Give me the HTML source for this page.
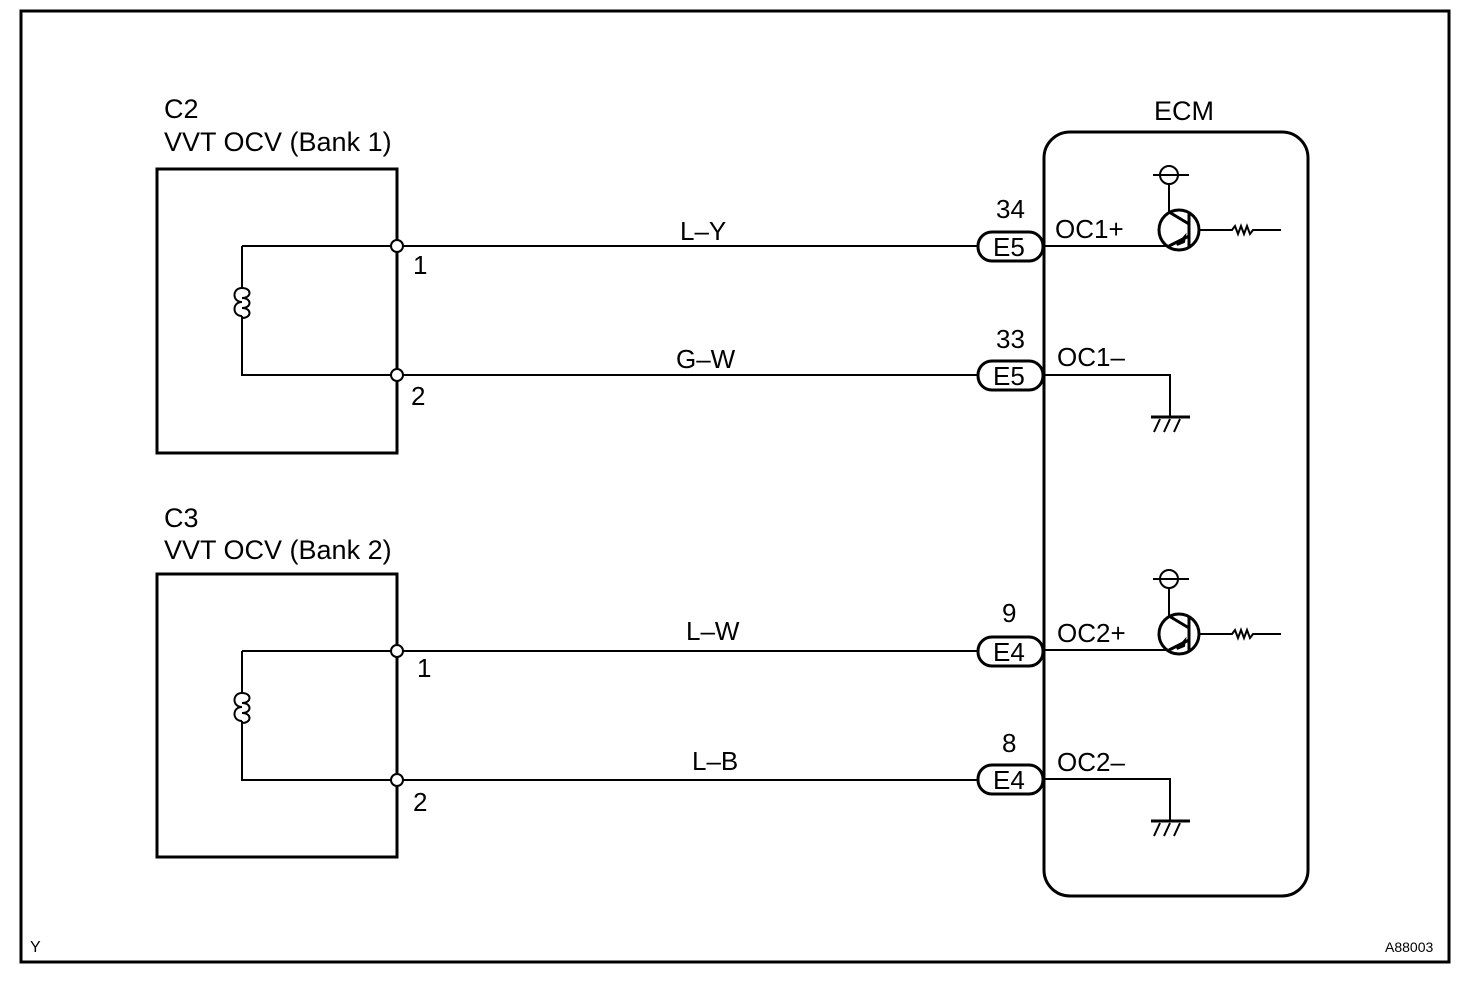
<!DOCTYPE html>
<html><head><style>
body{margin:0;background:#fff}
text{font-family:"Liberation Sans",Arial,sans-serif;fill:#000}
</style></head><body>
<svg width="1472" height="976" viewBox="0 0 1472 976" xmlns="http://www.w3.org/2000/svg">
<rect x="21" y="11" width="1428" height="951" fill="none" stroke="#000" stroke-width="3"/>
<g font-size="27">
<text x="164" y="118">C2</text>
<text x="164" y="151">VVT OCV (Bank 1)</text>
<text x="164" y="527">C3</text>
<text x="164" y="559">VVT OCV (Bank 2)</text>
<text x="1154" y="120">ECM</text>
</g>
<g fill="none" stroke="#000">
<rect x="157" y="169" width="240" height="284" stroke-width="3"/>
<rect x="157" y="574" width="240" height="283" stroke-width="3"/>
<rect x="1044" y="132" width="264" height="764" rx="26" stroke-width="3"/>
</g>
<g id="b1">
<path d="M397 246H980M397 375H980M242 246V288M242 316V375H397M242 246H397" fill="none" stroke="#000" stroke-width="2"/>
<path d="M242 288c-10 0 -10 14 0 14c-10 0 -10 14 0 14" fill="none" stroke="#000" stroke-width="2"/>
<path d="M242 288c10 0 10 10 0 10c10 0 10 10 0 10c10 0 10 10 0 10" fill="none" stroke="#000" stroke-width="2"/>
<circle cx="397" cy="246" r="6" fill="#fff" stroke="#000" stroke-width="2"/>
<circle cx="397" cy="375" r="6" fill="#fff" stroke="#000" stroke-width="2"/>
</g>
<use href="#b1" transform="translate(0,405)"/>
<g font-size="26">
<text x="413" y="274">1</text><text x="411" y="405">2</text>
<text x="417" y="677">1</text><text x="413" y="811">2</text>
<text x="680" y="240">L–Y</text><text x="676" y="368">G–W</text>
<text x="686" y="640">L–W</text><text x="692" y="770">L–B</text>
<text x="996" y="218">34</text><text x="996" y="348">33</text>
<text x="1002" y="622">9</text><text x="1002" y="752">8</text>
<text x="1055" y="238">OC1+</text><text x="1057" y="366">OC1–</text>
<text x="1057" y="642">OC2+</text><text x="1057" y="771">OC2–</text>
</g>
<g stroke="#000" stroke-width="3" fill="#fff">
<rect x="978" y="232" width="65" height="29" rx="14"/>
<rect x="978" y="361" width="65" height="29" rx="14"/>
<rect x="978" y="637" width="65" height="29" rx="14"/>
<rect x="978" y="765" width="65" height="29" rx="14"/>
</g>
<g font-size="26">
<text x="993" y="256">E5</text><text x="993" y="385">E5</text>
<text x="993" y="661">E4</text><text x="993" y="789">E4</text>
</g>
<g id="tr" fill="none" stroke="#000">
<path d="M1153 175H1189M1169 184V213M1043 246H1170M1198 230H1232l3-4 3 8 3-8 3 8 3-8 3 8 3-4H1281" stroke-width="2"/>
<circle cx="1169" cy="175" r="9" stroke-width="2"/>
<circle cx="1179" cy="230" r="20" stroke-width="3"/>
<path d="M1189 213V247M1169 212L1189 224M1169 246L1189 236" stroke-width="3"/>
<path d="M1177 245l8-9 -1 6z" fill="#000" stroke-width="2"/>
<path d="M1043 375H1170V417M1154 432l6-13M1164 432l6-13M1174 432l6-13" stroke-width="2"/>
<path d="M1151 417H1190" stroke-width="3"/>
</g>
<use href="#tr" transform="translate(0,404)"/>
<text x="30" y="952" font-size="16">Y</text>
<text x="1385" y="952" font-size="14">A88003</text>
</svg>
</body></html>
